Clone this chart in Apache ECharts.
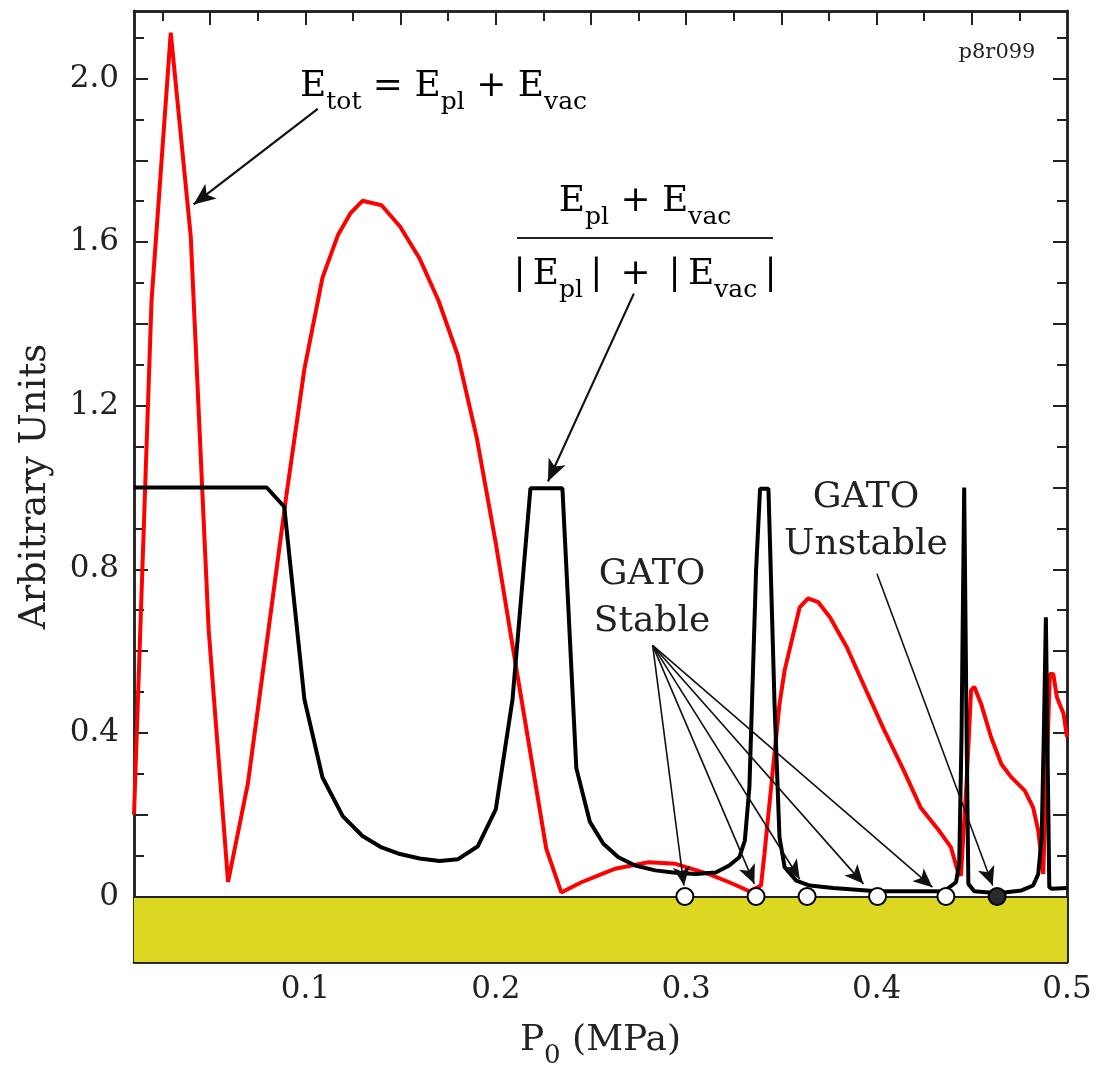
<!DOCTYPE html>
<html>
<head>
<meta charset="utf-8">
<script src="https://cdn.jsdelivr.net/npm/echarts@6/dist/echarts.min.js"></script>
<style>
  html, body { margin: 0; padding: 0; background: #fff; }
  #main { width: 1097px; height: 1068px; }
</style>
</head>
<body>
<div id="main"></div>
<script>
// axis ranges and ticks
var xMin = 0.01, xMax = 0.5;
var yMin = -0.16, yMax = 2.165;
var xLabelVals = [0.1, 0.2, 0.3, 0.4, 0.5];
var xMajorTicks = [0.05, 0.1, 0.15, 0.2, 0.25, 0.3, 0.35, 0.4, 0.45];
var xMinorTicks = [0.025, 0.075, 0.125, 0.175, 0.225, 0.275, 0.325, 0.375, 0.425, 0.475];
var yLabelVals = [0, 0.4, 0.8, 1.2, 1.6, 2.0];
var yMajorTicks = [0, 0.2, 0.4, 0.6, 0.8, 1.0, 1.2, 1.4, 1.6, 1.8, 2.0];
var yMinorTicks = [-0.1, 0.1, 0.3, 0.5, 0.7, 0.9, 1.1, 1.3, 1.5, 1.7, 1.9, 2.1];

// E_tot = E_pl + E_vac  (red)
var etot = [
  [0.01, 0.20], [0.0192, 1.456], [0.0293, 2.112], [0.0398, 1.614], [0.0492, 0.653],
  [0.0594, 0.036], [0.0698, 0.276], [0.08, 0.63], [0.09, 0.98], [0.0995, 1.29],
  [0.109, 1.513], [0.117, 1.616], [0.1236, 1.67], [0.130, 1.701], [0.140, 1.69],
  [0.1497, 1.638], [0.160, 1.56], [0.170, 1.456], [0.180, 1.324], [0.190, 1.122],
  [0.200, 0.864], [0.21, 0.58], [0.22, 0.30], [0.2265, 0.117], [0.2344, 0.01],
  [0.245, 0.035], [0.2556, 0.055], [0.2626, 0.068], [0.2803, 0.084], [0.2943, 0.080],
  [0.312, 0.055], [0.3226, 0.035], [0.3332, 0.013], [0.3393, 0.027], [0.3411, 0.104],
  [0.3455, 0.308], [0.349, 0.47], [0.3517, 0.553], [0.3596, 0.707], [0.364, 0.729],
  [0.3693, 0.72], [0.3755, 0.683], [0.3843, 0.61], [0.3949, 0.50], [0.4037, 0.41],
  [0.4143, 0.308], [0.4231, 0.218], [0.432, 0.166], [0.439, 0.121], [0.4425, 0.064],
  [0.4443, 0.051], [0.4475, 0.30], [0.4496, 0.504], [0.4513, 0.513], [0.4549, 0.471],
  [0.4601, 0.39], [0.4655, 0.324], [0.4707, 0.292], [0.4778, 0.259], [0.4822, 0.218],
  [0.4849, 0.161], [0.4875, 0.055], [0.491, 0.544], [0.4928, 0.544], [0.4947, 0.487],
  [0.4982, 0.447], [0.5, 0.39]
];

// (E_pl + E_vac) / (|E_pl| + |E_vac|)  (black)
var ratio = [
  [0.01, 1.0], [0.0797, 1.0], [0.0889, 0.953], [0.0995, 0.482], [0.109, 0.291],
  [0.1197, 0.196], [0.130, 0.148], [0.140, 0.12], [0.1497, 0.104], [0.160, 0.093],
  [0.1705, 0.087], [0.180, 0.091], [0.1906, 0.123], [0.200, 0.213], [0.2088, 0.482],
  [0.2182, 0.998], [0.235, 0.998], [0.2423, 0.314], [0.2494, 0.183], [0.2565, 0.129],
  [0.2644, 0.096], [0.2732, 0.076], [0.2838, 0.064], [0.2943, 0.058], [0.305, 0.055],
  [0.3155, 0.059], [0.3226, 0.076], [0.3279, 0.096], [0.3308, 0.137], [0.3332, 0.267],
  [0.3367, 0.797], [0.3388, 0.997], [0.3432, 0.997], [0.3464, 0.471], [0.349, 0.145],
  [0.3517, 0.072], [0.3578, 0.039], [0.3649, 0.027], [0.3772, 0.021], [0.400, 0.013],
  [0.4355, 0.013], [0.4417, 0.035], [0.4434, 0.08], [0.4446, 0.39], [0.446, 1.0],
  [0.4473, 0.39], [0.4482, 0.031], [0.4513, 0.013], [0.4637, 0.008], [0.4761, 0.015],
  [0.4822, 0.027], [0.4849, 0.055], [0.4867, 0.145], [0.4878, 0.39], [0.4889, 0.683],
  [0.4898, 0.35], [0.4907, 0.023], [0.492, 0.019], [0.5, 0.021]
];

// GATO results
var gatoStable = [[0.2993, 0], [0.3367, 0], [0.3635, 0], [0.4005, 0], [0.4364, 0]];
var gatoUnstable = [[0.4633, 0]];

// annotation arrows [from, to] in data units
var stableFrom = [0.2824, 0.614];
var stableTips = [[0.2988, 0.027], [0.3358, 0.031], [0.3596, 0.043], [0.3931, 0.031], [0.4293, 0.023]];
var unstableArrow = [[0.4002, 0.789], [0.461, 0.027]];
var etotArrow = [[0.1065, 1.926], [0.0413, 1.692]];
var fracArrow = [[0.2725, 1.474], [0.2274, 1.015]];

var ink = '#222';
var serif = 'DejaVu Serif';

function rich(big, small, lh, drop) {
  return {
    m: {fontFamily: serif, fontSize: big, lineHeight: lh, color: ink, verticalAlign: 'middle'},
    s: {fontFamily: serif, fontSize: small, lineHeight: lh, color: ink, verticalAlign: 'middle', padding: [drop, 0, 0, 0]}
  };
}

function makeX(pos, ticks, len, labels) {
  var a = {
    type: 'value', gridIndex: 0, position: pos, min: xMin, max: xMax,
    axisLine: {show: true, onZero: false, lineStyle: {color: ink, width: 2.5}},
    axisTick: {show: true, inside: true, length: len, customValues: ticks, lineStyle: {color: ink, width: 2}},
    axisLabel: {show: false},
    splitLine: {show: false}
  };
  if (labels) {
    a.axisLabel = {
      show: true, customValues: labels, margin: 12,
      fontFamily: serif, fontSize: 31, color: ink,
      formatter: function (v) { return v.toFixed(1); }
    };
    a.name = '{m|P}{s|0}{m| (MPa)}';
    a.nameLocation = 'middle';
    a.nameGap = 56;
    a.nameMoveOverlap = false;
    a.nameTextStyle = {rich: rich(36, 26, 46, 30)};
  }
  return a;
}

function makeY(pos, ticks, len, labels) {
  var a = {
    type: 'value', gridIndex: 0, position: pos, min: yMin, max: yMax,
    axisLine: {show: true, onZero: false, lineStyle: {color: ink, width: 2.5}},
    axisTick: {show: true, inside: true, length: len, customValues: ticks, lineStyle: {color: ink, width: 2}},
    axisLabel: {show: false},
    splitLine: {show: false}
  };
  if (labels) {
    a.axisLabel = {
      show: true, customValues: labels, margin: 15,
      fontFamily: serif, fontSize: 31, color: ink,
      formatter: function (v) { return v === 0 ? '0' : v.toFixed(1); }
    };
    a.name = 'Arbitrary Units';
    a.nameLocation = 'middle';
    a.nameGap = 80;
    a.nameMoveOverlap = false;
    a.nameTextStyle = {fontFamily: serif, fontSize: 37, color: ink};
  }
  return a;
}

function arrow(from, to, size, width) {
  return [
    {coord: from, symbol: 'none'},
    {coord: to, symbol: 'arrow', symbolSize: size, lineStyle: {width: width}}
  ];
}

var arrowLines = [];
stableTips.forEach(function (t) {
  arrowLines.push(arrow(stableFrom, t, [13, 19], 1.6));
});
arrowLines.push(arrow(unstableArrow[0], unstableArrow[1], [13, 19], 1.6));
arrowLines.push(arrow(etotArrow[0], etotArrow[1], [14, 22], 2.2));
arrowLines.push(arrow(fracArrow[0], fracArrow[1], [14, 22], 2.2));

var mychart = echarts.init(document.getElementById('main'), null, {renderer: 'canvas'});
var option = {
  animation: false,
  backgroundColor: '#fff',
  textStyle: {fontFamily: serif},
  grid: {left: 134, right: 30, top: 11, bottom: 106, containLabel: false, outerBoundsMode: 'none'},
  xAxis: [
    makeX('bottom', xMajorTicks, 14, xLabelVals),
    makeX('bottom', xMinorTicks, 10),
    makeX('top', xMajorTicks, 14),
    makeX('top', xMinorTicks, 10)
  ],
  yAxis: [
    makeY('left', yMajorTicks, 14, yLabelVals),
    makeY('left', yMinorTicks, 10),
    makeY('right', yMajorTicks, 14),
    makeY('right', yMinorTicks, 10)
  ],
  series: [
    {
      name: 'Etot', type: 'line', data: etot, showSymbol: false, z: 3,
      lineStyle: {color: '#ff0000', width: 4}, silent: true,
      markArea: {
        silent: true,
        itemStyle: {color: '#dcd723'},
        data: [[{coord: [xMin, yMin]}, {coord: [xMax, 0]}]]
      },
      markLine: {
        silent: true, symbol: 'none', label: {show: false},
        lineStyle: {color: ink, width: 2, type: 'solid'},
        data: [{yAxis: 0}]
      }
    },
    {
      name: 'ratio', type: 'line', data: ratio, showSymbol: false, z: 4,
      lineStyle: {color: '#000', width: 4}, silent: true
    },
    {
      name: 'GATO stable', type: 'scatter', data: gatoStable, z: 6,
      symbol: 'circle', symbolSize: 17,
      itemStyle: {color: '#fff', borderColor: '#000', borderWidth: 2, opacity: 1},
      markLine: {
        silent: true, symbol: ['none', 'arrow'],
        label: {show: false},
        lineStyle: {color: '#111', width: 1.6, type: 'solid'},
        data: arrowLines
      }
    },
    {
      name: 'GATO unstable', type: 'scatter', data: gatoUnstable, z: 6,
      symbol: 'circle', symbolSize: 17,
      itemStyle: {color: '#2a2a2a', borderColor: '#000', borderWidth: 2, opacity: 1}
    }
  ],
  graphic: [
    {
      type: 'text', x: 300, y: 64, z: 10,
      style: {
        text: '{m|E}{s|tot}{m| = E}{s|pl}{m| + E}{s|vac}',
        rich: rich(36, 25, 46, 30), align: 'left', verticalAlign: 'top'
      }
    },
    {
      type: 'text', x: 645, y: 179, z: 10,
      style: {
        text: '{m|E}{s|pl}{m| + E}{s|vac}',
        rich: rich(36, 25, 46, 30), align: 'center', verticalAlign: 'top'
      }
    },
    {
      type: 'line', z: 10,
      shape: {x1: 517, y1: 238, x2: 773, y2: 238},
      style: {stroke: ink, lineWidth: 2}
    },
    {
      type: 'text', x: 645, y: 252, z: 10,
      style: {
        text: '{m||\u2009E}{s|pl}{m|\u2009|\u2002+\u2002|\u2009E}{s|vac}{m|\u2009|}',
        rich: rich(36, 25, 46, 30), align: 'center', verticalAlign: 'top'
      }
    },
    {
      type: 'text', x: 652, y: 551, z: 10,
      style: {
        text: 'GATO\nStable', fontFamily: serif, fontSize: 36, lineHeight: 47,
        fill: ink, align: 'center', verticalAlign: 'top'
      }
    },
    {
      type: 'text', x: 866, y: 474, z: 10,
      style: {
        text: 'GATO\nUnstable', fontFamily: serif, fontSize: 36, lineHeight: 47,
        fill: ink, align: 'center', verticalAlign: 'top'
      }
    },
    {
      type: 'text', x: 997, y: 53, z: 10,
      style: {
        text: 'p8r099', fontFamily: serif, fontSize: 21,
        fill: ink, align: 'center', verticalAlign: 'middle'
      }
    }
  ]
};
mychart.setOption(option);
</script>
</body>
</html>
